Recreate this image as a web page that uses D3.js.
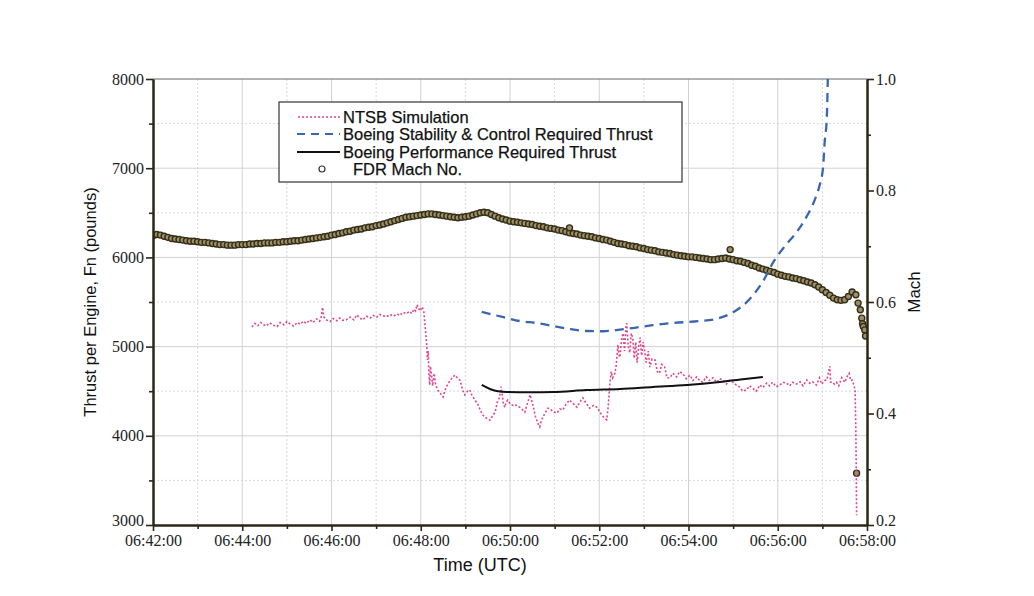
<!DOCTYPE html>
<html>
<head>
<meta charset="utf-8">
<script src="https://cdn.jsdelivr.net/npm/d3@7"></script>
<style>
  body { margin: 0; background: #fff; }
  svg { display: block; }
  .tick text { font-family: "Liberation Serif", "DejaVu Serif", serif; font-size: 16px; fill: #222; }
  .title { font-family: "Liberation Sans", Arial, sans-serif; font-size: 16.5px; fill: #111; }
  .legend text { font-family: "Liberation Sans", Arial, sans-serif; font-size: 16.5px; fill: #111; stroke: #111; stroke-width: 0.25px; }
</style>
</head>
<body>
<div id="chart"></div>
<script>
// FDR Mach, one sample every 5 s from 06:42:00
const machStepSec = 5;
const machValues = [
  0.719, 0.721, 0.720, 0.718, 0.716, 0.714, 0.713, 0.712, 0.711, 0.710, 0.709, 0.709,
  0.708, 0.707, 0.707, 0.706, 0.705, 0.704, 0.703, 0.703, 0.702, 0.702, 0.702, 0.703, 0.703,
  0.703, 0.704, 0.704, 0.705, 0.705, 0.706, 0.706, 0.706, 0.707, 0.707, 0.708,
  0.708, 0.709, 0.710, 0.710, 0.711, 0.712, 0.713, 0.714, 0.715,
  0.716, 0.717, 0.718, 0.720, 0.721, 0.723, 0.724, 0.726, 0.727,
  0.729, 0.730, 0.731, 0.733, 0.734, 0.735, 0.737,
  0.738, 0.740, 0.742, 0.744, 0.746, 0.748,
  0.750, 0.752, 0.753, 0.754, 0.755, 0.756, 0.757, 0.758,
  0.758, 0.757, 0.756, 0.755, 0.754, 0.753, 0.752, 0.751,
  0.752, 0.753, 0.754, 0.756, 0.758, 0.760, 0.761, 0.760,
  0.757, 0.754, 0.751, 0.749, 0.747, 0.745, 0.744,
  0.743, 0.742, 0.741, 0.740, 0.739, 0.737, 0.736, 0.735, 0.733,
  0.732, 0.731, 0.729, 0.728, 0.726, 0.724,
  0.723, 0.722, 0.720, 0.719, 0.718, 0.717,
  0.715, 0.714, 0.712, 0.711, 0.709, 0.707,
  0.705, 0.704, 0.703, 0.701, 0.700, 0.699, 0.697, 0.696, 0.694,
  0.693, 0.692, 0.690, 0.689, 0.688, 0.687, 0.685, 0.684, 0.683,
  0.682, 0.681, 0.681, 0.680, 0.679, 0.678, 0.677, 0.676, 0.676,
  0.677, 0.678, 0.679, 0.677, 0.676, 0.674, 0.673, 0.671, 0.669,
  0.666, 0.664, 0.661, 0.659, 0.657, 0.655, 0.653, 0.650, 0.648,
  0.646, 0.645, 0.643, 0.642, 0.640, 0.638, 0.636, 0.634, 0.631,
  0.627, 0.622, 0.617, 0.612, 0.607, 0.604, 0.603, 0.604, 0.610, 0.618, 0.613
];
// odd FDR samples [sec, mach]
const machExtra = [
  [560, 0.733], [776, 0.694], [948, 0.598], [951, 0.586], [953, 0.571],
  [954, 0.561], [955, 0.556], [957, 0.550], [958, 0.539], [946, 0.293]
];

// [sec after 06:42:00, thrust lb]
const ntsbSim = [
  [133,5220],[137,5260],[141,5235],[145,5270],[148,5250],[152,5230],[157,5265],[162,5240],
  [167,5225],[171,5270],[176,5245],[180,5280],[184,5255],[189,5230],[194,5270],[198,5250],
  [202,5285],[206,5260],[211,5300],[215,5270],[220,5310],[224,5285],[226,5320],[228,5440],
  [230,5330],[233,5300],[238,5280],[242,5315],[247,5290],[251,5320],[255,5295],[260,5300],
  [265,5330],[270,5300],[274,5355],[278,5320],[282,5300],[287,5340],[292,5320],[296,5350],
  [301,5330],[305,5360],[309,5345],[314,5335],[319,5360],[323,5340],[328,5365],[332,5350],
  [336,5385],[341,5370],[345,5395],[348,5370],[351,5420],[353,5400],[355,5470],[357,5430],
  [359,5400],[362,5445],[364,5400],[366,5220],[368,5020],[369,4850],[370,4950],[371,4700],
  [372,4570],[373,4780],[375,4650],[376,4560],[378,4700],[380,4570],[383,4510],[386,4480],
  [390,4435],[393,4520],[397,4590],[400,4620],[402,4650],[406,4680],[410,4640],[413,4620],
  [416,4520],[419,4460],[423,4500],[426,4515],[429,4450],[433,4400],[437,4350],[440,4290],
  [443,4240],[446,4210],[450,4190],[453,4175],[457,4230],[460,4265],[463,4380],[466,4430],
  [468,4550],[469,4500],[471,4360],[473,4320],[475,4380],[477,4400],[480,4360],[484,4340],
  [487,4350],[490,4330],[493,4320],[497,4290],[500,4265],[504,4380],[507,4460],[509,4400],
  [512,4300],[514,4220],[516,4175],[518,4130],[520,4100],[522,4170],[525,4220],[527,4255],
  [531,4310],[534,4300],[538,4270],[543,4255],[547,4300],[551,4290],[555,4350],[560,4400],
  [565,4360],[570,4320],[574,4380],[578,4425],[582,4370],[587,4310],[592,4340],[597,4320],
  [600,4280],[603,4235],[607,4200],[610,4180],[612,4320],[614,4560],[616,4720],[618,4650],
  [621,4700],[623,4800],[625,5020],[627,4880],[628,4900],[630,5080],[632,5150],[634,4950],
  [636,5240],[637,5260],[639,5000],[641,4930],[643,5150],[645,5100],[647,4870],[649,5050],
  [651,4820],[653,5000],[655,5100],[657,4900],[659,5050],[661,4960],[663,4820],[666,4950],
  [668,4770],[671,4860],[675,4850],[678,4720],[681,4700],[684,4800],[688,4770],[691,4650],
  [695,4650],[699,4700],[704,4660],[708,4720],[712,4700],[717,4640],[722,4680],[726,4620],
  [731,4660],[735,4620],[739,4600],[744,4660],[748,4620],[753,4650],[758,4600],[762,4640],
  [766,4625],[771,4580],[775,4620],[780,4600],[784,4570],[789,4545],[793,4500],[798,4515],
  [802,4560],[806,4535],[811,4500],[816,4570],[820,4540],[825,4590],[829,4560],[833,4600],
  [838,4550],[843,4570],[847,4600],[852,4590],[856,4560],[860,4600],[865,4580],[870,4605],
  [874,4560],[879,4625],[883,4590],[887,4605],[892,4570],[896,4650],[899,4580],[903,4620],
  [906,4625],[910,4780],[911,4600],[913,4605],[916,4580],[919,4600],[922,4560],[926,4650],
  [930,4600],[933,4660],[936,4700],[938,4620],[940,4625],[942,4580],[944,4515],[945,4065],
  [945.5,3620],[946,3110]
];

const stabilityThrust = [
  [442,5388],[470,5332],[493,5287],[516,5264],[538,5231],[560,5197],[583,5175],[605,5172],
  [628,5190],[651,5215],[672,5240],[695,5262],[735,5287],[758,5312],[780,5385],[802,5530],
  [820,5730],[835,5960],[850,6130],[866,6290],[879,6460],[890,6650],[896,6800],[901,7013],
  [903,7282],[906,7574],[907.5,8100]
];

const performanceThrust = [
  [442,4570],[453,4525],[462,4502],[476,4491],[507,4488],[538,4491],[583,4513],[628,4525],
  [672,4547],[718,4569],[762,4603],[796,4637],[820,4659]
];

const thrustTicks = [3000, 4000, 5000, 6000, 7000, 8000];
const machTicks = [0.2, 0.4, 0.6, 0.8, 1.0];
const legendLabels = ["NTSB Simulation", "Boeing Stability & Control Required Thrust",
  "Boeing Performance Required Thrust", "FDR Mach No."];

const width = 1034, height = 596;
const plot = { left: 153, right: 867, top: 79, bottom: 525 };
const t0 = Date.UTC(2000, 0, 1, 6, 42, 0);
const toDate = (s) => new Date(t0 + s * 1000);

const svg = d3.select("#chart").append("svg").attr("width", width).attr("height", height);

const x = d3.scaleUtc().domain([toDate(0), toDate(960)]).range([plot.left, plot.right]);
const yL = d3.scaleLinear().domain([3000, 8000]).range([plot.bottom, plot.top]);
const yR = d3.scaleLinear().domain([0.2, 1.0]).range([plot.bottom, plot.top]);

const majorTimes = x.ticks(d3.utcMinute.every(2));
const minorTimes = x.ticks(d3.utcMinute.every(1)).filter((d) => d.getUTCMinutes() % 2 === 1);

// grid
const grid = svg.append("g");
grid.selectAll(".vmin").data(minorTimes).enter().append("line")
  .attr("x1", (d) => x(d)).attr("x2", (d) => x(d)).attr("y1", plot.top).attr("y2", plot.bottom)
  .attr("stroke", "#d9d9d9").attr("stroke-dasharray", "2,2");
grid.selectAll(".hmin").data(d3.range(3500, 8000, 1000)).enter().append("line")
  .attr("x1", plot.left).attr("x2", plot.right).attr("y1", (d) => yL(d)).attr("y2", (d) => yL(d))
  .attr("stroke", "#d9d9d9").attr("stroke-dasharray", "2,2");
grid.selectAll(".vmaj").data(majorTimes.slice(1, -1)).enter().append("line")
  .attr("x1", (d) => x(d)).attr("x2", (d) => x(d)).attr("y1", plot.top).attr("y2", plot.bottom)
  .attr("stroke", "#d2d2d2");
grid.selectAll(".hmaj").data(thrustTicks.slice(1, -1)).enter().append("line")
  .attr("x1", plot.left).attr("x2", plot.right).attr("y1", (d) => yL(d)).attr("y2", (d) => yL(d))
  .attr("stroke", "#d2d2d2");
svg.append("line").attr("x1", plot.left).attr("x2", plot.right)
  .attr("y1", plot.top).attr("y2", plot.top).attr("stroke", "#666").attr("stroke-width", 1);

svg.append("clipPath").attr("id", "clip").append("rect")
  .attr("x", plot.left).attr("y", plot.top)
  .attr("width", plot.right - plot.left).attr("height", plot.bottom - plot.top);
const g = svg.append("g").attr("clip-path", "url(#clip)");

// FDR Mach circles
const machPoints = machValues.map((m, i) => [i * machStepSec, m]).concat(machExtra);
g.selectAll(".mach").data(machPoints).enter().append("circle")
  .attr("cx", (d) => x(toDate(d[0]))).attr("cy", (d) => yR(d[1])).attr("r", 3)
  .attr("fill", "#9c9068").attr("stroke", "#352e18").attr("stroke-width", 1.4);

const thrustLine = d3.line().x((d) => x(toDate(d[0]))).y((d) => yL(d[1]));

g.append("path").datum(ntsbSim).attr("d", thrustLine)
  .attr("fill", "none").attr("stroke", "#e0468f").attr("stroke-width", 1.6)
  .attr("stroke-dasharray", "2,2");

g.append("path").datum(stabilityThrust).attr("d", thrustLine.curve(d3.curveMonotoneX))
  .attr("fill", "none").attr("stroke", "#3a66b0").attr("stroke-width", 2.3)
  .attr("stroke-dasharray", "9,6");

g.append("path").datum(performanceThrust).attr("d", thrustLine.curve(d3.curveMonotoneX))
  .attr("fill", "none").attr("stroke", "#111").attr("stroke-width", 2);

// axes
const axisColor = "#2a2717";
function styleAxis(sel) {
  sel.select(".domain").attr("stroke", axisColor).attr("stroke-width", 2);
  sel.selectAll(".tick line").attr("stroke", axisColor).attr("stroke-width", 1.6);
}
const fmtTime = d3.utcFormat("%H:%M:%S");

svg.append("g").attr("transform", `translate(0,${plot.bottom})`)
  .call(d3.axisBottom(x).tickValues(minorTimes).tickSize(4).tickFormat("").tickSizeOuter(0))
  .call(styleAxis);
svg.append("g").attr("transform", `translate(0,${plot.bottom})`)
  .call(d3.axisBottom(x).tickValues(majorTimes).tickSize(6).tickSizeOuter(0).tickFormat(fmtTime).tickPadding(4))
  .call(styleAxis);

svg.append("g").attr("transform", `translate(${plot.left},0)`)
  .call(d3.axisLeft(yL).tickValues(d3.range(3500, 8000, 1000)).tickSize(4).tickFormat("").tickSizeOuter(0))
  .call(styleAxis);
const leftAxis = svg.append("g").attr("transform", `translate(${plot.left},0)`)
  .call(d3.axisLeft(yL).tickValues(thrustTicks).tickSize(7).tickSizeOuter(0).tickFormat(d3.format("d")).tickPadding(2))
  .call(styleAxis);

svg.append("g").attr("transform", `translate(${plot.right},0)`)
  .call(d3.axisRight(yR).tickValues([0.3, 0.5, 0.7, 0.9]).tickSize(4).tickFormat("").tickSizeOuter(0))
  .call(styleAxis);
const rightAxis = svg.append("g").attr("transform", `translate(${plot.right},0)`)
  .call(d3.axisRight(yR).tickValues(machTicks).tickSize(7).tickSizeOuter(0).tickFormat(d3.format(".1f")).tickPadding(2))
  .call(styleAxis);

// lowest labels sit a little high so they clear the time labels
leftAxis.selectAll(".tick text").filter((d) => d === 3000).attr("dy", "0.05em");
rightAxis.selectAll(".tick text").filter((d) => d === 0.2).attr("dy", "0.05em");

// titles
svg.append("text").attr("class", "title").attr("text-anchor", "middle")
  .attr("transform", `translate(96,${(plot.top + plot.bottom) / 2}) rotate(-90)`)
  .text("Thrust per Engine, Fn (pounds)");
svg.append("text").attr("class", "title").attr("text-anchor", "middle")
  .attr("transform", `translate(920,292) rotate(-90)`).style("font-size", "17px").text("Mach");
svg.append("text").attr("class", "title").attr("text-anchor", "middle")
  .attr("x", 480).attr("y", 571).style("font-size", "18px").text("Time (UTC)");

// legend
const lg = svg.append("g").attr("class", "legend");
lg.append("rect").attr("x", 279).attr("y", 102).attr("width", 403).attr("height", 80)
  .attr("fill", "#fff").attr("stroke", "#333").attr("stroke-width", 1.2);
const rows = [117, 134, 152, 169];
lg.append("line").attr("x1", 298).attr("x2", 340).attr("y1", rows[0]).attr("y2", rows[0])
  .attr("stroke", "#e0468f").attr("stroke-width", 1.3).attr("stroke-dasharray", "2,2");
lg.append("line").attr("x1", 297).attr("x2", 340).attr("y1", rows[1]).attr("y2", rows[1])
  .attr("stroke", "#3a66b0").attr("stroke-width", 2.2).attr("stroke-dasharray", "8,6");
lg.append("line").attr("x1", 297).attr("x2", 340).attr("y1", rows[2]).attr("y2", rows[2])
  .attr("stroke", "#111").attr("stroke-width", 2);
lg.append("circle").attr("cx", 322).attr("cy", rows[3]).attr("r", 3)
  .attr("fill", "#fff").attr("stroke", "#333").attr("stroke-width", 1.2);
lg.selectAll(".lab").data(legendLabels).enter().append("text")
  .attr("x", (d, i) => (i === 3 ? 353 : 343)).attr("y", (d, i) => rows[i] + 5.5).text((d) => d);
</script>
</body>
</html>
